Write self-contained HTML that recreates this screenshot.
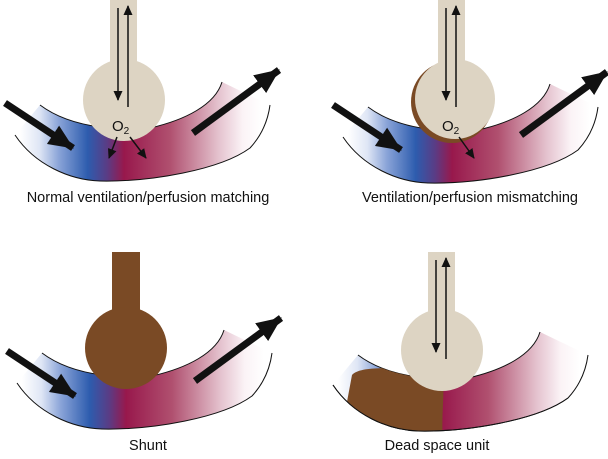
<!DOCTYPE html>
<html><head><meta charset="utf-8"><style>
html,body{margin:0;padding:0;background:#fff;width:608px;height:459px;overflow:hidden}
svg{display:block}
text{font-family:"Liberation Sans",Arial,sans-serif;fill:#111}
</style></head><body>
<svg width="608" height="459" viewBox="0 0 608 459" xmlns="http://www.w3.org/2000/svg">
<defs>
<linearGradient id="g" gradientUnits="userSpaceOnUse" x1="20" y1="0" x2="262" y2="0">
<stop offset="0" stop-color="#fff"/>
<stop offset="0.08" stop-color="#dfe6f5"/>
<stop offset="0.16" stop-color="#8aa4d8"/>
<stop offset="0.28" stop-color="#2d5cae"/>
<stop offset="0.36" stop-color="#5a3c85"/>
<stop offset="0.43" stop-color="#98184c"/>
<stop offset="0.62" stop-color="#b0506f"/>
<stop offset="0.82" stop-color="#e4c2ce"/>
<stop offset="0.92" stop-color="#fbf3f6"/>
<stop offset="1" stop-color="#fff"/>
</linearGradient>
<marker id="ah" markerWidth="10" markerHeight="12" refX="9" refY="5" orient="auto" markerUnits="userSpaceOnUse"><path d="M0,0.5 L10,5 L0,9.5 Z" fill="#111"/></marker>
<marker id="bh" markerWidth="26" markerHeight="22" refX="24" refY="11" orient="auto" markerUnits="userSpaceOnUse"><path d="M0,0 L25,11 L0,22 Z" fill="#111"/></marker>
<path id="vfill" d="M15,135 C35,165 70,180 100,181 C150,182 220,170 250,148 C262,135 268,120 270,105 L222,82 C215,105 185,120 150,128 L100,127 C85,125 60,120 40,105 Z"/>
<g id="vessel">
<use href="#vfill" fill="url(#g)"/>
<path d="M40,105 C60,120 85,125 100,127 L150,128 C185,120 215,105 222,82" fill="none" stroke="#111" stroke-width="1"/>
<path d="M15,135 C35,165 70,180 100,181 C150,182 220,170 250,148 C262,135 268,120 270,105" fill="none" stroke="#111" stroke-width="1"/>
</g>
<g id="bigarrows">
<line x1="5" y1="103" x2="73" y2="148" stroke="#111" stroke-width="7" marker-end="url(#bh)"/>
<line x1="193" y1="133" x2="279" y2="70" stroke="#111" stroke-width="7" marker-end="url(#bh)"/>
</g>
</defs>

<!-- Panel 1 -->
<use href="#vessel"/>
<use href="#bigarrows"/>
<rect x="110" y="0" width="27" height="75" fill="#ddd4c3"/>
<circle cx="124" cy="100" r="41" fill="#ddd4c3"/>
<line x1="118" y1="8" x2="118" y2="100" stroke="#111" stroke-width="1.5" marker-end="url(#ah)"/>
<line x1="128" y1="107" x2="128" y2="6" stroke="#111" stroke-width="1.5" marker-end="url(#ah)"/>
<text x="112" y="131" font-size="15">O<tspan font-size="10" dy="3">2</tspan></text>
<line x1="117" y1="137" x2="109" y2="158" stroke="#111" stroke-width="1.5" marker-end="url(#ah)"/>
<line x1="130" y1="137" x2="146" y2="158" stroke="#111" stroke-width="1.5" marker-end="url(#ah)"/>
<text x="148" y="202" font-size="14.5" text-anchor="middle">Normal ventilation/perfusion matching</text>

<!-- Panel 2 -->
<g transform="translate(328,2)">
<use href="#vessel"/>
<use href="#bigarrows"/>
<rect x="110" y="-2" width="27" height="75" fill="#ddd4c3"/>
<circle cx="124" cy="100" r="41" fill="#7a4a25"/>
<circle cx="127" cy="97" r="40" fill="#ddd4c3"/>
<rect x="110" y="50" width="27" height="20" fill="#ddd4c3"/>
<line x1="118" y1="6" x2="118" y2="98" stroke="#111" stroke-width="1.5" marker-end="url(#ah)"/>
<line x1="128" y1="105" x2="128" y2="4" stroke="#111" stroke-width="1.5" marker-end="url(#ah)"/>
<text x="114" y="129" font-size="15">O<tspan font-size="10" dy="3">2</tspan></text>
<line x1="131" y1="135" x2="146" y2="156" stroke="#111" stroke-width="1.5" marker-end="url(#ah)"/>
</g>
<text x="470" y="202" font-size="14.5" text-anchor="middle">Ventilation/perfusion mismatching</text>

<!-- Panel 3 -->
<g transform="translate(2,248)">
<use href="#vessel"/>
<use href="#bigarrows"/>
<rect x="110" y="4" width="28" height="75" fill="#7a4a25"/>
<circle cx="124" cy="100" r="41" fill="#7a4a25"/>
</g>
<text x="148" y="450" font-size="14.5" text-anchor="middle">Shunt</text>

<!-- Panel 4 -->
<g transform="translate(318,250)">
<clipPath id="dc"><use href="#vfill"/></clipPath>
<use href="#vessel"/>
<path d="M34,125 C40,118 60,118 80,118 L125,120 C127,150 122,170 126,200 L20,200 Z" fill="#7a4a25" clip-path="url(#dc)"/>
<path d="M15,135 C35,165 70,180 100,181 C150,182 220,170 250,148" fill="none" stroke="#111" stroke-width="1"/>
<rect x="110" y="2" width="27" height="75" fill="#ddd4c3"/>
<circle cx="124" cy="100" r="41" fill="#ddd4c3"/>
<line x1="118" y1="10" x2="118" y2="102" stroke="#111" stroke-width="1.5" marker-end="url(#ah)"/>
<line x1="128" y1="109" x2="128" y2="8" stroke="#111" stroke-width="1.5" marker-end="url(#ah)"/>
</g>
<text x="437" y="450" font-size="14.5" text-anchor="middle">Dead space unit</text>
</svg>
</body></html>
